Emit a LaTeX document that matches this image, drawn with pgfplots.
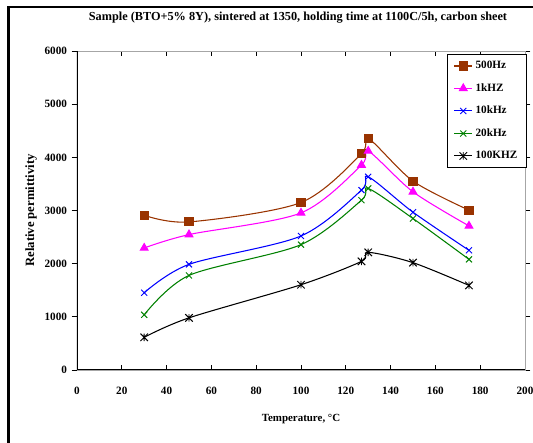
\documentclass[border=0pt]{standalone}
\usepackage{pgfplots}
\pgfplotsset{compat=1.18}
\usepackage{fontspec}
\setmainfont{Liberation Serif}
\definecolor{cbrown}{HTML}{993300}
\definecolor{cmag}{HTML}{FF00FF}
\definecolor{cblue}{HTML}{0000FF}
\definecolor{cgreen}{HTML}{008000}
\pgfdeclareplotmark{xbar}{%
  \pgfpathmoveto{\pgfqpoint{-\pgfplotmarksize}{-\pgfplotmarksize}}%
  \pgfpathlineto{\pgfqpoint{\pgfplotmarksize}{\pgfplotmarksize}}%
  \pgfpathmoveto{\pgfqpoint{-\pgfplotmarksize}{\pgfplotmarksize}}%
  \pgfpathlineto{\pgfqpoint{\pgfplotmarksize}{-\pgfplotmarksize}}%
  \pgfpathmoveto{\pgfqpoint{0pt}{-\pgfplotmarksize}}%
  \pgfpathlineto{\pgfqpoint{0pt}{\pgfplotmarksize}}%
  \pgfusepathqstroke}
\begin{document}
\begin{tikzpicture}
\path[use as bounding box] (0,0) rectangle (399.75pt,332.25pt);
\draw[line width=1.6pt] (6.4pt,0) -- (6.4pt,327pt) -- (399.75pt,327pt);
\node[font=\bfseries\fontsize{9.2}{10}\selectfont] at (223.5pt,318.8pt) {Sample (BTO+5\% 8Y), sintered at 1350, holding time at 1100C/5h, carbon sheet};
\begin{axis}[
  at={(57.75pt,54.75pt)}, anchor=south west,
  scale only axis, width=336pt, height=239.25pt,
  xmin=0, xmax=200, ymin=0, ymax=6000,
  xtick={0,20,...,200}, ytick={0,1000,...,6000},
  axis line style={gray!70, line width=0.6pt},
  x tick style={black, line width=0.6pt}, y tick style={black, line width=0.6pt},
  xtick align=inside, ytick align=outside,
  major tick length=4pt,
  ticklabel style={font=\bfseries\fontsize{8.4}{9}\selectfont},
  /pgf/number format/assume math mode=true,
  scaled y ticks=false,
  yticklabel style={/pgf/number format/1000 sep={}},
  xticklabel style={yshift=-9pt},
  xlabel={Temperature, \textdegree C},
  ylabel={Relative permittivity},
  xlabel style={font=\bfseries\fontsize{8.2}{9}\selectfont, yshift=-8pt},
  ylabel style={font=\bfseries\fontsize{9.5}{10}\selectfont, yshift=-1pt},
  legend style={at={(rel axis cs:1.003,0.99)}, anchor=north east, draw=black, line width=0.6pt,
    font=\bfseries\fontsize{8.4}{9}\selectfont, row sep=5.6pt, inner xsep=4.5pt, inner ysep=3pt,
    cells={anchor=west}},
  legend image code/.code={%
    \draw[mark repeat=2,mark phase=2] plot coordinates {(0cm,0cm) (0.24cm,0cm) (0.48cm,0cm)};},
  legend image post style={line width=0.8pt},
  every axis plot/.append style={smooth, tension=0.5, line width=0.8pt},
]
\addplot[cbrown, mark=square*, mark size=3pt, mark options={fill=cbrown}] coordinates {(30,2911) (50,2785) (100,3150) (127,4068) (130,4358) (150,3553) (175,3006)};
\addplot[cmag, mark=triangle*, mark size=3.3pt, mark options={fill=cmag}] coordinates {(30,2295) (50,2547) (100,2955) (127,3855) (130,4119) (150,3351) (175,2710)};
\addplot[cblue, mark=x, mark size=3.2pt, mark options={line width=0.7pt}] coordinates {(30,1453) (50,1987) (100,2521) (127,3383) (130,3634) (150,2968) (175,2251)};
\addplot[cgreen, mark=x, mark size=3.2pt, mark options={line width=0.7pt}] coordinates {(30,1038) (50,1779) (100,2358) (127,3194) (130,3415) (150,2849) (175,2081)};
\addplot[black, mark=xbar, mark size=2.8pt, mark options={line width=0.7pt}] coordinates {(30,615) (50,981) (100,1604) (127,2043) (130,2213) (150,2019) (175,1591)};
\legend{500Hz,1kHZ,10kHz,20kHz,100KHZ}
\draw[black, line width=1.2pt] (rel axis cs:0,1) -- (rel axis cs:0,0) -- (rel axis cs:1,0);
\end{axis}
\end{tikzpicture}
\end{document}
